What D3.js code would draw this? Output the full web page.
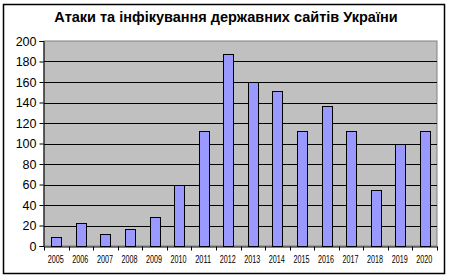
<!DOCTYPE html>
<html lang="uk">
<head>
    <meta charset="UTF-8">
    <title>Атаки та інфікування державних сайтів України</title>
    <script src="https://d3js.org/d3.v7.min.js"></script>
    <style>
        body { margin: 0; background: #fff; }
        text { font-family: Arial, "Liberation Sans", sans-serif; fill: #000; }
    </style>
</head>
<body>
    <script>
        // Data
        const years = ["2005", "2006", "2007", "2008", "2009", "2010", "2011", "2012",
                       "2013", "2014", "2015", "2016", "2017", "2018", "2019", "2020"];
        const attacks = [9, 22, 12, 17, 28, 60, 112, 187, 160, 151, 112, 137, 112, 55, 100, 112];
        const yTicks = [0, 20, 40, 60, 80, 100, 120, 140, 160, 180, 200];
        const title = "Атаки та інфікування державних сайтів України";

        const width = 450;
        const height = 280;
        const plot = { left: 44, right: 437, top: 41, bottom: 246 };

        const svg = d3.select("body")
            .append("svg")
            .attr("width", width)
            .attr("height", height);

        // outer chart border
        svg.append("rect")
            .attr("x", 3.5).attr("y", 4.5)
            .attr("width", 441).attr("height", 269)
            .attr("fill", "#fff")
            .attr("stroke", "#000")
            .attr("stroke-width", 1.5);

        svg.append("text")
            .attr("x", 226).attr("y", 22)
            .attr("text-anchor", "middle")
            .attr("font-size", 14.5)
            .attr("font-weight", "bold")
            .text(title);

        const x = d3.scaleBand()
            .domain(years)
            .range([plot.left, plot.right])
            .paddingInner(0.6)
            .paddingOuter(0.3);

        const y = d3.scaleLinear()
            .domain([0, 200])
            .range([plot.bottom, plot.top]);

        // plot area
        svg.append("rect")
            .attr("x", plot.left).attr("y", plot.top)
            .attr("width", plot.right - plot.left)
            .attr("height", plot.bottom - plot.top)
            .attr("fill", "#c0c0c0")
            .attr("stroke", "#808080")
            .attr("stroke-width", 1);

        // gridlines
        svg.append("g")
            .selectAll("line")
            .data(yTicks.filter(d => d > 0 && d < 200))
            .enter()
            .append("line")
            .attr("x1", plot.left).attr("x2", plot.right)
            .attr("y1", d => Math.round(y(d)) + 0.5)
            .attr("y2", d => Math.round(y(d)) + 0.5)
            .attr("stroke", "#000")
            .attr("stroke-width", 1);

        // bars
        svg.append("g")
            .selectAll("rect")
            .data(attacks)
            .enter()
            .append("rect")
            .attr("x", (d, i) => Math.round(x(years[i])) + 0.5)
            .attr("y", d => Math.round(y(d)) + 0.5)
            .attr("width", Math.round(x.bandwidth()))
            .attr("height", d => Math.round(y(0)) - Math.round(y(d)))
            .attr("fill", "#9999ff")
            .attr("stroke", "#000")
            .attr("stroke-width", 1);

        // y axis
        const yAxis = d3.axisLeft(y)
            .tickValues(yTicks)
            .tickSize(4)
            .tickPadding(3);
        svg.append("g")
            .attr("transform", `translate(${plot.left - 0.5},0)`)
            .call(yAxis)
            .call(g => g.select(".domain").attr("stroke", "#000"))
            .call(g => g.selectAll("text")
                .attr("font-size", 12.5)
                .attr("font-family", "Arial, 'Liberation Sans', sans-serif"));

        // x axis with ticks between categories
        const xAxis = d3.axisBottom(x).tickSize(0).tickPadding(9);
        const xg = svg.append("g")
            .attr("transform", `translate(0,${plot.bottom + 0.5})`)
            .call(xAxis);
        xg.select(".domain").attr("stroke", "#000");
        xg.selectAll("text")
            .attr("font-size", 10.5)
            .attr("font-family", "Arial, 'Liberation Sans', sans-serif")
            .attr("textLength", 16)
            .attr("lengthAdjust", "spacingAndGlyphs")
            .attr("transform", "translate(-8.5,0)")
            .attr("text-anchor", "start");

        xg.selectAll("line.sep")
            .data(d3.range(years.length + 1))
            .enter()
            .append("line")
            .attr("class", "sep")
            .attr("x1", i => Math.round(plot.left + i * (plot.right - plot.left) / years.length) + 0.5)
            .attr("x2", i => Math.round(plot.left + i * (plot.right - plot.left) / years.length) + 0.5)
            .attr("y1", 0).attr("y2", 4)
            .attr("stroke", "#000");
    </script>
</body>
</html>
